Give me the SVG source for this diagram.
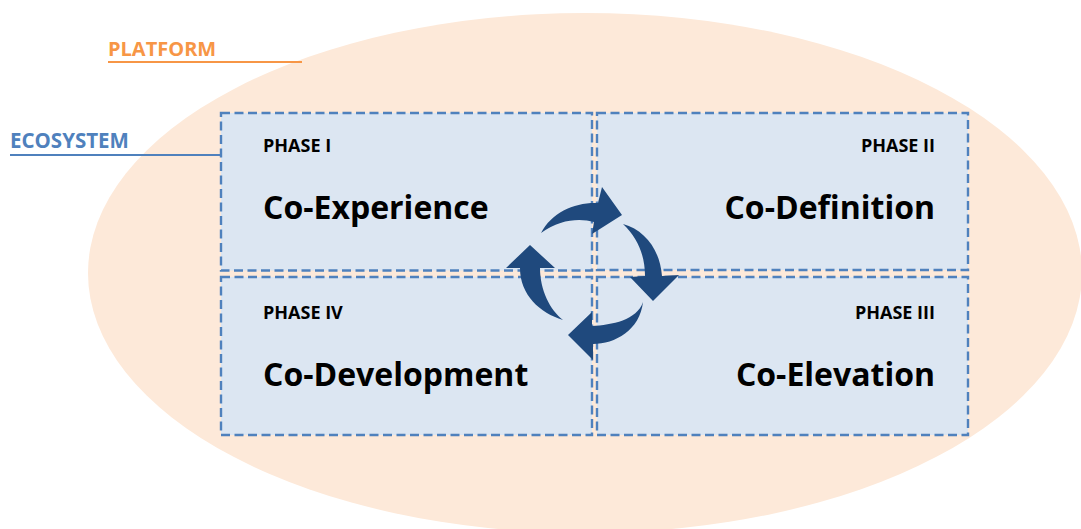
<svg xmlns="http://www.w3.org/2000/svg" width="1081" height="529" viewBox="0 0 1081 529">
<style>
.box{fill:#DCE6F2;stroke:#4F81BD;stroke-width:2.4;stroke-dasharray:9 4.5}
.phase{font-family:"Open Sans","Liberation Sans",sans-serif;font-weight:bold;font-size:18px;fill:#000}
.title{font-family:"Open Sans","Liberation Sans",sans-serif;font-weight:bold;font-size:32px;fill:#000}
.arrow{fill:#1F497D}
</style>
<rect width="1081" height="529" fill="#FFFFFF"/>
<ellipse id="platform-area" cx="585" cy="273" rx="497" ry="260" fill="#FDE9D9"/>
<g id="label-platform">
<text x="108" y="56" font-family="'Open Sans','Liberation Sans',sans-serif" font-weight="bold" font-size="20" fill="#F79646">PLATFORM</text>
<line x1="108" y1="62" x2="302" y2="62" stroke="#F79646" stroke-width="2"/>
</g>
<g id="label-ecosystem">
<text x="10" y="148" font-family="'Open Sans','Liberation Sans',sans-serif" font-weight="bold" font-size="20.5" fill="#4F81BD">ECOSYSTEM</text>
<line x1="10" y1="155" x2="221" y2="155" stroke="#4F81BD" stroke-width="2"/>
</g>
<g id="phase1">
<rect class="box" x="221" y="113" width="371" height="157.5"/>
<text class="phase" x="263" y="152">PHASE I</text>
<text class="title" x="263" y="219">Co-Experience</text>
</g>
<g id="phase2">
<rect class="box" x="597" y="113" width="371" height="157"/>
<text class="phase" x="935" y="152" text-anchor="end">PHASE II</text>
<text class="title" x="935" y="219" text-anchor="end">Co-Definition</text>
</g>
<g id="phase4">
<rect class="box" x="221" y="277" width="371" height="158"/>
<text class="phase" x="263" y="319">PHASE IV</text>
<text class="title" x="263" y="386">Co-Development</text>
</g>
<g id="phase3">
<rect class="box" x="597" y="277" width="371" height="158"/>
<text class="phase" x="935" y="319" text-anchor="end">PHASE III</text>
<text class="title" x="935" y="386" text-anchor="end">Co-Elevation</text>
</g>
<g id="connectors">
<path class="arrow" d="M541,233 C552,212 575,202 598,203 L602,187 L622,215 L592,234 L594,222 C580,218 560,219 541,233 Z"/>
<path class="arrow" d="M623,224 C645,230 660,250 662,276 L679,275 L653,301 L630,277 L645,276 C645,256 638,238 623,224 Z"/>
<path class="arrow" d="M643,302 C640,330 615,344 593,344 L593,360 L568,335 L592,312 L592,326 C612,325 637,320 643,302 Z"/>
<path class="arrow" d="M563,320 C540,313 520,295 520,268 L506,268 L530,245 L555,268 L540,268 C540,290 550,310 563,320 Z"/>
</g>
</svg>
